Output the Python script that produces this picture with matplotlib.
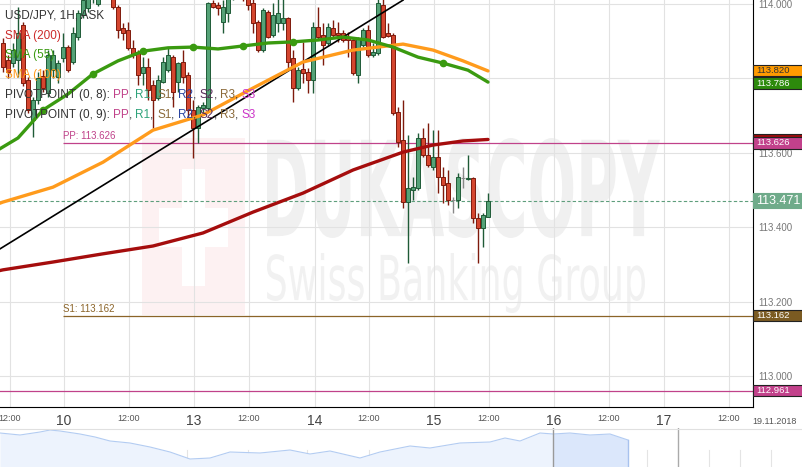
import numpy as np
import matplotlib.pyplot as plt
from matplotlib.patches import Rectangle, PathPatch
from matplotlib.textpath import TextPath
from matplotlib.font_manager import FontProperties
from matplotlib.transforms import Affine2D, blended_transform_factory

plt.rcParams['font.family'] = ['Liberation Sans', 'DejaVu Sans']

# USD/JPY 1H ASK candles (oldest -> newest)
opens = [113.894, 113.848, 113.840, 113.848, 113.942, 113.795, 113.687, 113.741, 113.805, 113.760,
         113.821, 113.803, 113.854, 113.883, 113.843, 113.910, 113.969, 113.988, 114.015, 113.999,
         114.036, 114.077, 114.042, 113.991, 113.934, 113.929, 113.881, 113.867, 113.813, 113.830,
         113.781, 113.746, 113.789, 113.821, 113.856, 113.789, 113.843, 113.808, 113.714, 113.666,
         113.719, 113.719, 114.001, 113.996, 113.950, 113.974, 114.017, 114.068, 114.036, 114.017,
         114.001, 113.950, 113.875, 113.977, 113.915, 113.948, 113.948, 113.961, 113.854, 113.773,
         113.824, 113.816, 113.795, 113.937, 113.915, 113.894, 113.934, 113.921, 113.921, 113.907,
         113.902, 113.808, 113.889, 113.929, 113.862, 113.867, 113.996, 113.921, 113.915, 113.709,
         113.634, 113.467, 113.499, 113.505, 113.639, 113.593, 113.561, 113.588, 113.534, 113.518,
         113.472, 113.472, 113.532, 113.529, 113.532, 113.424, 113.397, 113.427]
highs = [113.907, 113.862, 113.894, 113.991, 113.950, 113.803, 113.749, 113.816, 113.821, 113.875,
         113.875, 113.848, 113.921, 113.889, 113.937, 113.983, 114.023, 114.042, 114.063, 114.050,
         114.090, 114.085, 114.050, 113.996, 113.948, 113.950, 113.902, 113.875, 113.856, 113.854,
         113.795, 113.808, 113.856, 113.881, 113.862, 113.843, 113.875, 113.816, 113.741, 113.728,
         113.736, 114.004, 114.009, 114.004, 114.009, 114.031, 114.077, 114.085, 114.050, 114.031,
         114.015, 113.956, 113.988, 113.983, 114.001, 114.023, 114.017, 113.964, 113.875, 113.830,
         113.897, 113.827, 113.950, 113.991, 113.948, 113.948, 113.956, 113.950, 113.929, 113.923,
         113.907, 113.910, 113.934, 113.942, 113.894, 114.015, 114.020, 113.948, 113.921, 113.722,
         113.741, 113.647, 113.534, 113.652, 113.666, 113.679, 113.660, 113.660, 113.561, 113.553,
         113.481, 113.545, 113.561, 113.593, 113.534, 113.438, 113.438, 113.491]
lows = [113.816, 113.800, 113.830, 113.803, 113.779, 113.706, 113.642, 113.730, 113.762, 113.749,
        113.800, 113.787, 113.843, 113.816, 113.838, 113.902, 113.961, 113.977, 114.001, 113.993,
        114.023, 114.031, 113.985, 113.907, 113.902, 113.875, 113.854, 113.781, 113.781, 113.741,
        113.666, 113.741, 113.787, 113.816, 113.722, 113.762, 113.787, 113.687, 113.585, 113.626,
        113.701, 113.714, 113.988, 113.969, 113.921, 113.950, 114.009, 114.017, 114.007, 113.983,
        113.921, 113.870, 113.870, 113.907, 113.910, 113.923, 113.929, 113.821, 113.736, 113.768,
        113.787, 113.760, 113.760, 113.902, 113.835, 113.889, 113.910, 113.897, 113.897, 113.856,
        113.808, 113.787, 113.883, 113.856, 113.856, 113.862, 113.907, 113.910, 113.701, 113.615,
        113.451, 113.303, 113.472, 113.499, 113.588, 113.561, 113.553, 113.491, 113.464, 113.459,
        113.438, 113.451, 113.505, 113.526, 113.411, 113.303, 113.346, 113.427]
closes = [113.830, 113.816, 113.875, 113.921, 113.787, 113.714, 113.741, 113.800, 113.773, 113.862,
          113.862, 113.840, 113.883, 113.821, 113.921, 113.974, 114.009, 114.031, 114.050, 114.036,
          114.077, 114.042, 113.991, 113.929, 113.921, 113.881, 113.862, 113.808, 113.830, 113.768,
          113.741, 113.795, 113.843, 113.862, 113.762, 113.840, 113.803, 113.714, 113.666, 113.722,
          113.728, 114.001, 113.991, 113.988, 113.991, 114.017, 114.063, 114.031, 114.015, 113.996,
          113.948, 113.875, 113.983, 113.910, 113.969, 113.974, 113.961, 113.843, 113.773, 113.821,
          113.813, 113.795, 113.937, 113.910, 113.889, 113.937, 113.915, 113.915, 113.902, 113.902,
          113.813, 113.907, 113.929, 113.862, 113.870, 114.001, 113.910, 113.913, 113.706, 113.628,
          113.467, 113.505, 113.507, 113.639, 113.593, 113.566, 113.588, 113.534, 113.513, 113.472,
          113.472, 113.534, 113.532, 113.532, 113.424, 113.397, 113.432, 113.471]

# moving averages, read at a few candle positions
sma200_x = [-1, 0, 10, 20, 30, 40, 50, 60, 70, 80, 86, 92, 97]
sma200_y = [113.282, 113.285, 113.306, 113.328, 113.349, 113.384, 113.440, 113.491, 113.553, 113.601,
            113.620, 113.631, 113.635]
sma100_x = [-1, 0, 10, 20, 30, 40, 50, 60, 70, 80, 86, 92, 97]
sma100_y = [113.462, 113.467, 113.507, 113.574, 113.660, 113.701, 113.773, 113.843, 113.875, 113.891,
            113.875, 113.846, 113.819]
sma55_x = [-1, 3, 8, 13, 18, 23, 28, 33, 38, 43, 48, 53, 58, 63, 68, 73, 78, 83, 88, 93, 97]
sma55_y = [113.607, 113.639, 113.714, 113.757, 113.811, 113.846, 113.872, 113.881, 113.883, 113.878,
           113.886, 113.894, 113.897, 113.902, 113.910, 113.902, 113.883, 113.856, 113.840, 113.821, 113.789]
sma55_dots = [2, 4, 6, 8, 10, 12, 18]

trend_x = [-1, 80]
trend_y = [113.338, 114.009]

pp_level = 113.626
s1_level = 113.162
low_level = 112.961
last_price = 113.471
sma100_last = 113.820
sma55_last = 113.786
sma200_last = 113.635

price_ticks = [113.0, 113.2, 113.4, 113.6, 113.8, 114.0]
time_ticks = [1.4, 12.2, 25.2, 38.2, 49.2, 62.4, 73.2, 86.2, 97.2, 110.2, 121.2, 132.2, 145.2]
time_labels = ['12:00', '10', '12:00', '13', '12:00', '14', '12:00', '15', '12:00', '16', '12:00', '17', '12:00']

# navigator overview series
nav_t = [0, 20, 40, 50, 60, 80, 95, 110, 130, 150, 170, 190, 210, 230, 260, 290, 310, 330, 360, 380,
         410, 430, 460, 490, 505, 520, 540, 553, 570, 590, 610, 628]
nav_v = [34, 32, 35, 37, 36, 33, 30, 26, 24, 20, 15, 8, 9, 15, 14, 17, 13, 16, 9, 15,
         21, 19, 24, 25, 29, 26, 34, 33, 34, 32, 33, 27]

W, H = 803, 467
AXW, AXH = 753, 407
fig = plt.figure(figsize=(W / 100, H / 100), dpi=100)
ax = fig.add_axes([0, 1 - AXH / H, AXW / W, AXH / H])
ax.set_xlim(-0.6, 150.0)
ax.set_ylim(112.9168, 114.0094)


def pa(px, py):
    return px / AXW, 1 - py / AXH


# watermark
ax.add_patch(Rectangle(pa(142, 315), 103 / AXW, 177 / AXH, transform=ax.transAxes,
                       color='#fdf1f2', lw=0, zorder=0.2))
ax.add_patch(Rectangle(pa(182, 286), 23 / AXW, 117 / AXH, transform=ax.transAxes,
                       color='white', lw=0, zorder=0.3))
ax.add_patch(Rectangle(pa(159, 247), 69 / AXW, 39 / AXH, transform=ax.transAxes,
                       color='white', lw=0, zorder=0.3))


def stamp(text, weight, x0, y0, x1, y1, color):
    tp = TextPath((0, 0), text, size=100, prop=FontProperties(family='DejaVu Sans', weight=weight))
    bb = tp.get_extents()
    ax0, ay0 = pa(x0, y1)
    ax1, ay1 = pa(x1, y0)
    tr = Affine2D().translate(-bb.x0, -bb.y0).scale((ax1 - ax0) / bb.width, (ay1 - ay0) / bb.height)
    tr = tr.translate(ax0, ay0) + ax.transAxes
    ax.add_patch(PathPatch(tp, transform=tr, color=color, lw=0, zorder=0.2))


stamp('DUKASCOPY', 'bold', 267, 138, 660, 238, '#f0f0f0')
stamp('Swiss Banking Group', 'normal', 267, 253, 645, 313, '#f1f1f1')

# grid
ax.set_xticks(time_ticks)
ax.set_xticklabels(time_labels)
ax.set_yticks(price_ticks)
ax.set_yticklabels(['%.3f' % v for v in price_ticks])
ax.grid(color='#e2e2e2', lw=0.8)
ax.set_axisbelow(True)
ax.yaxis.tick_right()
ax.tick_params(axis='y', length=0, pad=4, labelsize=7, labelcolor='#777777')
ax.tick_params(axis='x', length=0, pad=5, labelsize=6.5, labelcolor='#555555')
for lab in ax.get_xticklabels():
    if ':' not in lab.get_text():
        lab.set_fontsize(10)
        lab.set_color('#444444')
for s in ['top', 'left']:
    ax.spines[s].set_visible(False)
ax.spines['right'].set_color('black')
ax.spines['bottom'].set_color('black')
ax.set_facecolor('white')

# pivot / level lines
ax.hlines(pp_level, 12, 150, color='#c0428a', lw=0.9, zorder=2)
ax.hlines(s1_level, 12, 150, color='#8b6428', lw=0.9, zorder=2)
ax.axhline(low_level, color='#c0428a', lw=0.9, zorder=2)
ax.axhline(last_price, color='#5e9e7c', lw=0.8, ls=(0, (3, 2)), zorder=2)
ax.text(12, pp_level + 0.004, 'PP: %.3f' % pp_level, fontsize=7, color='#c0428a', va='bottom')
ax.text(12, s1_level + 0.004, 'S1: %.3f' % s1_level, fontsize=7, color='#8b6428', va='bottom')

# candles
idx = np.arange(len(opens))
o = np.array(opens)
c = np.array(closes)
fills, edges = [], []
for oo, cc in zip(o, c):
    if cc > oo:
        fills.append('#55a277'); edges.append('#1f5b37')
    elif cc < oo:
        fills.append('#d4462f'); edges.append('#7e1a0c')
    else:
        fills.append('#999999'); edges.append('#888888')
ax.vlines(idx, lows, highs, colors=edges, lw=1.0, zorder=3)
ax.bar(idx, np.abs(c - o), bottom=np.minimum(o, c), width=0.7, color=fills,
       edgecolor=edges, lw=0.7, zorder=3.1)

# indicators
ax.plot(trend_x, trend_y, color='black', lw=1.2, zorder=4)
ax.plot(sma200_x, sma200_y, color='#a50d0d', lw=2.4, zorder=4, solid_capstyle='round')
ax.plot(sma100_x, sma100_y, color='#ff9b1c', lw=2.4, zorder=4, solid_capstyle='round')
ax.plot(sma55_x, sma55_y, color='#3a9a10', lw=2.4, zorder=4, solid_capstyle='round',
        marker='o', ms=4.5, markevery=sma55_dots)


# price tags on the right axis, later tags cover earlier ones
tagtr = blended_transform_factory(ax.transAxes, ax.transData)
TW = (W - AXW) / AXW
tag_z = [6]


def tag(value, bg, fg, hpx=11.5, fs=6.8, border=True, show=True):
    h = hpx / 372.5
    z = tag_z[0]
    ax.add_patch(Rectangle((1.0, value - h / 2), TW, h, transform=tagtr, clip_on=False,
                           facecolor=bg, edgecolor='#222222' if border else bg, lw=0.8, zorder=z))
    if show:
        ax.text(1.0 + 3 / AXW, value, '%.3f' % value, transform=tagtr, fontsize=fs, color=fg,
                va='center', ha='left', zorder=z + 0.5, clip_on=False)
    tag_z[0] += 1


tag(sma100_last, '#ff9a00', '#333333')
tag(sma55_last, '#2d8a0c', 'white')
tag(sma200_last, '#9a0c0c', 'white', show=False)  # hidden under the PP tag
tag(pp_level, '#c2418b', 'white')
tag(last_price, '#6fab8a', 'white', hpx=15, fs=9, border=False)
tag(s1_level, '#7b5b22', 'white')
tag(low_level, '#c2418b', 'white')

ax.text(154.4, -0.035, '19.11.2018', transform=blended_transform_factory(ax.transData, ax.transAxes),
        fontsize=6.5, color='#555555', ha='center', va='center', clip_on=False)

# legend text
ax.text(*pa(5, 16), 'USD/JPY, 1H, ASK', transform=ax.transAxes, fontsize=8.5, color='#333333',
        va='center', zorder=8)
ax.text(*pa(5, 36), 'SMA (200)', transform=ax.transAxes, fontsize=8.5, color='#cc2a2a', va='center', zorder=8)
ax.text(*pa(5, 55), 'SMA (55)', transform=ax.transAxes, fontsize=8.5, color='#3a9a10', va='center', zorder=8)
ax.text(*pa(5, 75), 'SMA (100)', transform=ax.transAxes, fontsize=8.5, color='#ff9b1c', va='center', zorder=8)

piv_names = ['PP', 'R1', 'S1', 'R2', 'S2', 'R3', 'S3']
piv_colors = ['#c0428a', '#2ea37a', '#8b6a3a', '#2b45a0', '#5a2d5a', '#8b6a3a', '#cc35c8']
for row, period in [(95, 8), (115, 9)]:
    prev = ax.text(*pa(5, row), 'PIVOTPOINT (0, %d): ' % period, transform=ax.transAxes,
                   fontsize=8.5, color='#333333', va='center', zorder=8)
    for i, (nm, col) in enumerate(zip(piv_names, piv_colors)):
        prev = ax.annotate(nm, xy=(1, 0), xycoords=prev, fontsize=8.5, color=col,
                           va='bottom', ha='left', zorder=8)
        if i < len(piv_names) - 1:
            prev = ax.annotate(', ', xy=(1, 0), xycoords=prev, fontsize=8.5, color='#333333',
                               va='bottom', ha='left', zorder=8)

# navigator
nav = fig.add_axes([0, 0, 1, 39 / H])
nav.set_xlim(0, W)
nav.set_ylim(0, 39)
nav.axis('off')
for gx in [3, 63, 94, 156, 187, 248, 307, 369, 430, 462, 494, 584, 616, 647, 709, 740, 771]:
    nav.plot([gx, gx], [0, 17], color='#e4e4e4', lw=0.8, zorder=0)
nav.fill_between(nav_t, 0, nav_v, color='#edf3fd', lw=0, zorder=1)
hl = [t >= 553 for t in nav_t]
nav.fill_between(nav_t, 0, nav_v, where=hl, color='#dbe7fb', lw=0, zorder=1.5)
nav.plot(nav_t, nav_v, color='#b3ccf2', lw=0.8, zorder=2)
nav.plot([553, 553], [0, 39], color='#999999', lw=1.0, zorder=3)
nav.plot([628, 628], [0, nav_v[-1]], color='#a8c2ee', lw=1.0, zorder=3)
nav.plot([678, 678], [0, 39], color='#aaaaaa', lw=1.0, zorder=3)
nav.plot([0, W], [38.5, 38.5], color='#e0e0e0', lw=0.8, zorder=3)

fig.savefig('out.png', dpi=100)
